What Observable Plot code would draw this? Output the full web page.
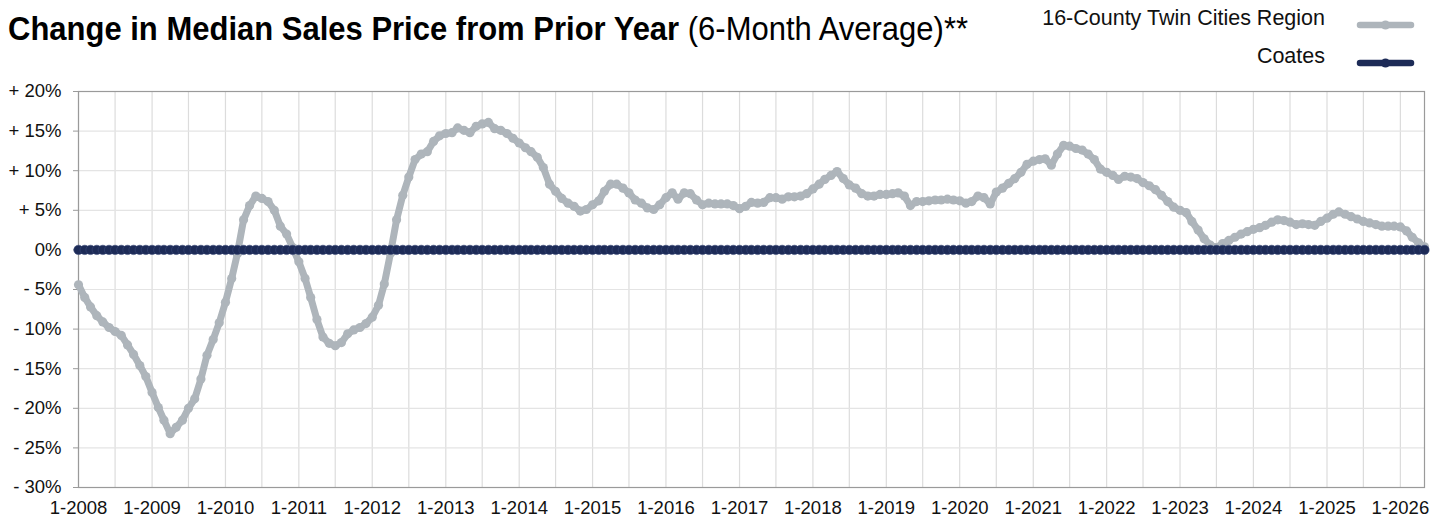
<!DOCTYPE html>
<html>
<head>
<meta charset="utf-8">
<script src="https://cdn.jsdelivr.net/npm/d3@7"></script>
<script src="https://cdn.jsdelivr.net/npm/@observablehq/plot@0.6"></script>
<style>
  html, body { margin: 0; padding: 0; background: #fff; }
  #wrap { width: 1443px; position: relative; }
  #header { position: relative; width: 1443px; height: 80px; }
  #title { position: absolute; left: 8px; top: 11px; font-size: 34px; line-height: 34px; white-space: nowrap;
           font-family: "Liberation Sans", Arial, Helvetica, sans-serif; color: #000;
           transform-origin: 0 0; }
  #title b { font-weight: 700; }
  #title span.sub { font-weight: 400; }
  .legtext { position: absolute; right: 118px; font-size: 21.5px; line-height: 21.5px; white-space: nowrap;
             font-family: "Liberation Sans", Arial, Helvetica, sans-serif; color: #111; }
  .legsw { position: absolute; left: 1350px; }
</style>
</head>
<body>
<div id="wrap">
  <div id="header">
    <div id="title"><b>Change in Median Sales Price from Prior Year</b><span class="sub"> (6-Month Average)**</span></div>
    <div class="legtext" id="leg0" style="top:8px"></div>
    <div class="legtext" id="leg1" style="top:46px"></div>
    <svg class="legsw" id="sw0" width="72" height="20" style="top:15px"></svg>
    <svg class="legsw" id="sw1" width="72" height="20" style="top:53px"></svg>
  </div>
  <div id="chart"></div>
</div>
<script>
// ---------- data ----------
const seriesNames = ["16-County Twin Cities Region", "Coates"];
const seriesColors = ["#aeb5bb", "#1d2b57"];
const startYear = 2008;

// 16-County Twin Cities Region, monthly, Jan 2008 .. May 2026 (percent)
const regionChange = [
  -4.4, -6.0, -7.2, -8.3, -9.1, -9.8, -10.3, -10.8, -12.0, -13.2, -14.6, -16.0,
  -18.0, -19.9, -21.5, -23.2, -22.4, -21.5, -20.0, -18.8, -16.3, -13.3, -11.3, -9.2,
  -6.6, -3.6, -0.5, 3.8, 5.6, 6.8, 6.5, 6.1, 5.0, 3.0, 2.0, 0.3,
  -1.5, -3.6, -6.0, -8.8, -11.0, -11.8, -12.1, -11.7, -10.6, -10.1, -9.8, -9.3,
  -8.5, -7.0, -4.3, -0.4, 3.8, 6.9, 9.2, 11.4, 12.1, 12.4, 13.7, 14.4,
  14.7, 14.8, 15.4, 15.1, 14.8, 15.6, 15.9, 16.1, 15.3, 15.1, 14.7, 14.1,
  13.5, 12.9, 12.4, 11.7, 10.4, 8.3, 7.4, 6.5, 5.9, 5.5, 4.9, 5.1,
  5.7, 6.2, 7.4, 8.3, 8.3, 7.8, 7.2, 6.3, 5.9, 5.3, 5.1, 5.7,
  6.6, 7.2, 6.4, 7.2, 7.1, 6.3, 5.7, 5.9, 5.8, 5.8, 5.8, 5.6,
  5.2, 5.5, 6.0, 5.9, 6.0, 6.6, 6.6, 6.4, 6.7, 6.7, 6.8, 7.1,
  7.7, 8.3, 8.9, 9.4, 9.9, 9.0, 8.2, 7.8, 7.1, 6.8, 6.8, 7.0,
  7.0, 7.1, 7.2, 6.8, 5.6, 6.1, 6.1, 6.2, 6.3, 6.3, 6.4, 6.3,
  6.2, 5.9, 6.1, 6.8, 6.6, 5.8, 7.3, 7.8, 8.4, 9.0, 9.8, 10.8,
  11.2, 11.4, 11.5, 10.7, 12.1, 13.2, 13.1, 12.8, 12.6, 12.1, 11.4, 10.2,
  9.8, 9.4, 8.9, 9.3, 9.2, 9.0, 8.5, 8.1, 7.6, 6.9, 6.1, 5.4,
  5.0, 4.7, 3.6, 2.5, 1.4, 0.6, 0.3, 0.8, 1.2, 1.6, 2.0, 2.3,
  2.6, 2.8, 3.1, 3.5, 3.8, 3.7, 3.5, 3.2, 3.3, 3.2, 3.1, 3.6,
  4.0, 4.5, 4.8, 4.5, 4.2, 3.9, 3.6, 3.4, 3.2, 3.0, 3.0, 3.0,
  2.9, 2.4, 1.6, 0.9, 0.4
];

// Coates, monthly, Jan 2008 .. May 2026 (percent)
const coatesChange = [
  0, 0, 0, 0, 0, 0, 0, 0, 0, 0, 0, 0,
  0, 0, 0, 0, 0, 0, 0, 0, 0, 0, 0, 0,
  0, 0, 0, 0, 0, 0, 0, 0, 0, 0, 0, 0,
  0, 0, 0, 0, 0, 0, 0, 0, 0, 0, 0, 0,
  0, 0, 0, 0, 0, 0, 0, 0, 0, 0, 0, 0,
  0, 0, 0, 0, 0, 0, 0, 0, 0, 0, 0, 0,
  0, 0, 0, 0, 0, 0, 0, 0, 0, 0, 0, 0,
  0, 0, 0, 0, 0, 0, 0, 0, 0, 0, 0, 0,
  0, 0, 0, 0, 0, 0, 0, 0, 0, 0, 0, 0,
  0, 0, 0, 0, 0, 0, 0, 0, 0, 0, 0, 0,
  0, 0, 0, 0, 0, 0, 0, 0, 0, 0, 0, 0,
  0, 0, 0, 0, 0, 0, 0, 0, 0, 0, 0, 0,
  0, 0, 0, 0, 0, 0, 0, 0, 0, 0, 0, 0,
  0, 0, 0, 0, 0, 0, 0, 0, 0, 0, 0, 0,
  0, 0, 0, 0, 0, 0, 0, 0, 0, 0, 0, 0,
  0, 0, 0, 0, 0, 0, 0, 0, 0, 0, 0, 0,
  0, 0, 0, 0, 0, 0, 0, 0, 0, 0, 0, 0,
  0, 0, 0, 0, 0, 0, 0, 0, 0, 0, 0, 0,
  0, 0, 0, 0, 0
];

const yTickValues = [20, 15, 10, 5, 0, -5, -10, -15, -20, -25, -30];
const yTickLabels = ["+ 20%", "+ 15%", "+ 10%", "+ 5%", "0%", "- 5%", "- 10%", "- 15%", "- 20%", "- 25%", "- 30%"];
const xTickYears = [2008, 2009, 2010, 2011, 2012, 2013, 2014, 2015, 2016, 2017, 2018, 2019, 2020, 2021, 2022, 2023, 2024, 2025, 2026];
const xTickLabels = ["1-2008", "1-2009", "1-2010", "1-2011", "1-2012", "1-2013", "1-2014", "1-2015", "1-2016", "1-2017", "1-2018", "1-2019", "1-2020", "1-2021", "1-2022", "1-2023", "1-2024", "1-2025", "1-2026"];

// ---------- build ----------
const start = new Date(Date.UTC(startYear, 0, 1));
const monthDate = i => d3.utcMonth.offset(start, i);
const rows = [];
regionChange.forEach((v, i) => rows.push({date: monthDate(i), value: v, series: seriesNames[0]}));
coatesChange.forEach((v, i) => rows.push({date: monthDate(i), value: v, series: seriesNames[1]}));
const regionRows = rows.filter(r => r.series === seriesNames[0]);
const coatesRows = rows.filter(r => r.series === seriesNames[1]);

const xDomain = [monthDate(0), monthDate(regionChange.length - 1)];
const xTicks = xTickYears.map(y => new Date(Date.UTC(y, 0, 1)));
const xLabel = new Map(xTickYears.map((y, i) => [y, xTickLabels[i]]));
const yLabel = new Map(yTickValues.map((v, i) => [v, yTickLabels[i]]));
const gridDates = d3.utcMonth.every(6).range(xDomain[0], d3.utcMonth.offset(xDomain[1], 1));

const chart = Plot.plot({
  width: 1443,
  height: 439,
  marginLeft: 78,
  marginRight: 19,
  marginTop: 11,
  marginBottom: 32,
  style: {fontFamily: "'Liberation Sans', Arial, Helvetica, sans-serif", fontSize: "18.5px", color: "#111", background: "#fff", overflow: "visible"},
  x: {type: "utc", domain: xDomain},
  y: {domain: [-30, 20]},
  marks: [
    Plot.ruleX(gridDates, {stroke: "#dcdcdc", strokeWidth: 1.2}),
    Plot.ruleY(yTickValues, {stroke: "#e4e4e4", strokeWidth: 1.2}),
    Plot.frame({stroke: "#9a9a9a", strokeWidth: 1.2}),
    Plot.axisY({ticks: yTickValues, tickFormat: d => yLabel.get(d), tickSize: 5, tickPadding: 12, stroke: "#9a9a9a", fill: "#111", label: null}),
    Plot.axisX({ticks: xTicks, tickFormat: d => xLabel.get(d.getUTCFullYear()), tickSize: 0, tickPadding: 13, fill: "#111", label: null}),
    Plot.line(regionRows, {x: "date", y: "value", stroke: seriesColors[0], strokeWidth: 7, strokeLinejoin: "round", strokeLinecap: "round"}),
    Plot.dot(regionRows, {x: "date", y: "value", fill: seriesColors[0], r: 4.6}),
    Plot.line(coatesRows, {x: "date", y: "value", stroke: seriesColors[1], strokeWidth: 8, strokeLinecap: "round"}),
    Plot.dot(coatesRows, {x: "date", y: "value", fill: seriesColors[1], stroke: "#3a4a78", strokeWidth: 0.6, r: 4.7})
  ]
});
document.getElementById("chart").appendChild(chart);

// ---------- header: title + legend ----------
const title = document.getElementById("title");
const tw = title.getBoundingClientRect().width;
title.style.transform = `scaleX(${960 / tw})`;

document.getElementById("leg0").textContent = seriesNames[0];
document.getElementById("leg1").textContent = seriesNames[1];
[0, 1].forEach(i => {
  const sw = d3.select("#sw" + i);
  sw.append("line").attr("x1", 10).attr("x2", 61).attr("y1", 10).attr("y2", 10)
    .attr("stroke", seriesColors[i]).attr("stroke-width", 6.5).attr("stroke-linecap", "round");
  sw.append("circle").attr("cx", 35.5).attr("cy", 10).attr("r", 4.5).attr("fill", seriesColors[i]);
});
</script>
</body>
</html>
